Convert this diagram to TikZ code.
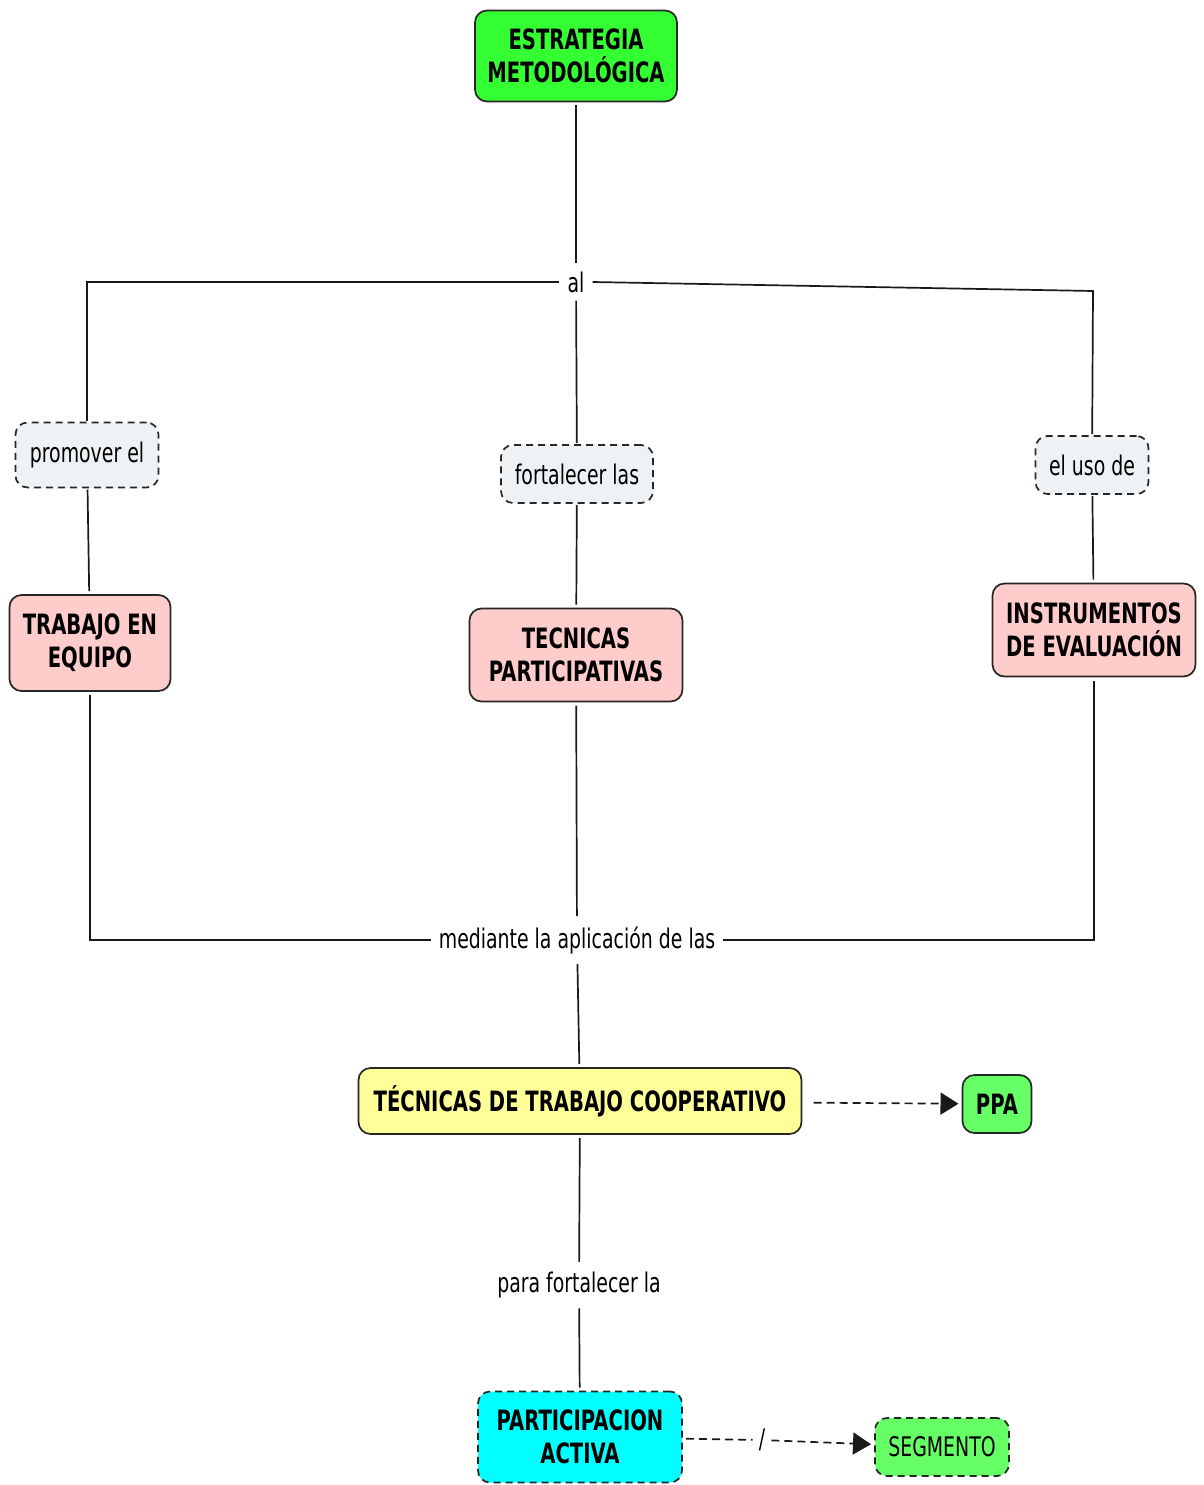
\documentclass[tikz,border=0pt]{standalone}
\usepackage{fontspec}
\setmainfont[FakeStretch=0.7]{DejaVu Sans}
\usepackage{tikz}
\usetikzlibrary{arrows.meta, positioning}

\definecolor{topgreen}{HTML}{33FF33}
\definecolor{leafgreen}{HTML}{66FF66}
\definecolor{mainpink}{HTML}{FFCCCC}
\definecolor{mainyellow}{HTML}{FFFF99}
\definecolor{maincyan}{HTML}{00FFFF}
\definecolor{phrasegray}{HTML}{EEF2F4}

\begin{document}
\begin{tikzpicture}[x=1pt, y=-1pt,
    concept/.style={draw=black!85, line width=1.7pt, rounded corners=12pt, align=center,
        font=\bfseries\fontsize{28}{33}\selectfont, inner sep=6pt, outer sep=4pt},
    phrase/.style={font=\fontsize{27}{30}\selectfont, inner xsep=8pt, inner ysep=4pt},
    phrasebox/.style={phrase, draw=black!85, line width=1.7pt, dash pattern=on 7pt off 5pt,
        fill=phrasegray, rounded corners=12pt, inner xsep=12pt, minimum height=58pt, outer sep=2pt},
    link/.style={line width=1.7pt, black!90},
    dlink/.style={link, dash pattern=on 8pt off 5pt, -{Triangle[length=18pt, width=22pt]}}]
    \useasboundingbox (0,0) rectangle (1203,1485);

    % top concept
    \node[concept, fill=topgreen, minimum width=202pt, minimum height=91pt] (estrategia) at (576,56) {ESTRATEGIA\\METODOLÓGICA};
    \node[phrase, inner ysep=8pt] (al) at (576,282) {al};

    % linking phrases
    \node[phrasebox, minimum width=143pt, minimum height=65pt] (promover) at (87,455) {promover el};
    \node[phrasebox, minimum width=152pt] (fortalecer) at (577,474) {fortalecer las};
    \node[phrasebox, minimum width=113pt] (eluso) at (1092,465) {el uso de};

    % middle concepts
    \node[concept, fill=mainpink, minimum width=161pt, minimum height=96pt] (trabajo) at (90,643) {TRABAJO EN\\EQUIPO};
    \node[concept, fill=mainpink, minimum width=213pt, minimum height=93pt] (tecnicas) at (576,655) {TECNICAS\\PARTICIPATIVAS};
    \node[concept, fill=mainpink, minimum width=203pt, minimum height=93pt] (instrumentos) at (1094,630) {INSTRUMENTOS\\DE EVALUACIÓN};

    \node[phrase, inner ysep=10pt] (mediante) at (577,940) {mediante la aplicación de las};

    % lower concepts
    \node[concept, fill=mainyellow, minimum width=443pt, minimum height=66pt] (cooperativo) at (580,1101) {TÉCNICAS DE TRABAJO COOPERATIVO};
    \node[concept, fill=leafgreen, minimum width=69pt, minimum height=58pt] (ppa) at (997,1104) {PPA};
    \node[phrase, inner ysep=10pt] (para) at (579,1285) {para fortalecer la};
    \node[concept, fill=maincyan, dash pattern=on 7pt off 5pt, minimum width=204pt, minimum height=91pt] (participacion) at (580,1437) {PARTICIPACION\\ACTIVA};
    \node[phrase, inner xsep=6pt] (slash) at (762,1440) {/};
    \node[concept, fill=leafgreen, dash pattern=on 7pt off 5pt, font=\fontsize{27}{30}\selectfont, minimum width=134pt, minimum height=58pt] (segmento) at (942,1447) {SEGMENTO};

    % connectors
    \draw[link] (estrategia) -- (al);
    \draw[link] (al) -| (promover);
    \draw[link] (al) -- (fortalecer);
    \draw[link] (al.east) -- (1093,291) coordinate (alright) -- (eluso);
    \draw[link] (promover) -- (trabajo);
    \draw[link] (fortalecer) -- (tecnicas);
    \draw[link] (eluso) -- (instrumentos);
    \draw[link] (trabajo) |- (mediante);
    \draw[link] (tecnicas) -- (mediante);
    \draw[link] (instrumentos) |- (mediante);
    \draw[link] (mediante) -- (cooperativo);
    \draw[dlink, shorten <=8pt] (cooperativo) -- (ppa);
    \draw[link] (cooperativo) -- (para);
    \draw[link] (para) -- (participacion);
    \draw[link, dash pattern=on 8pt off 5pt] (participacion) -- (slash);
    \draw[dlink] (slash) -- (segmento);
\end{tikzpicture}
\end{document}
